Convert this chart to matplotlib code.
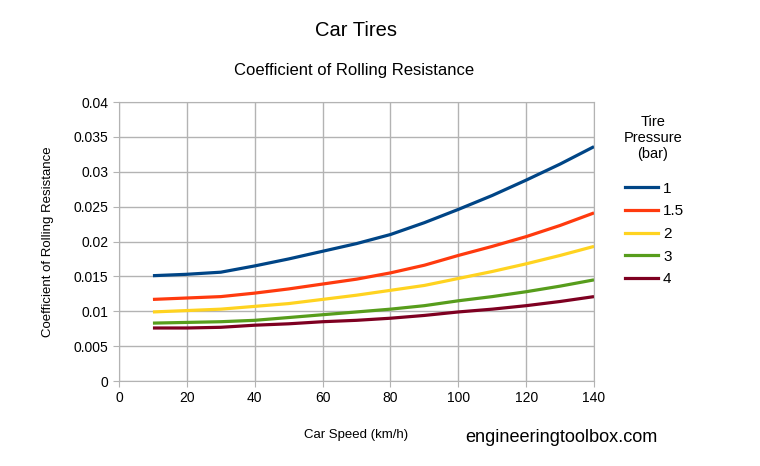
import matplotlib.pyplot as plt
from matplotlib.lines import Line2D

plt.rcParams['font.family'] = ['Liberation Sans', 'DejaVu Sans']

# speed (km/h) and rolling resistance coefficient per tire pressure
speed = [10, 20, 30, 40, 50, 60, 70, 80, 90, 100, 110, 120, 130, 140]
p_1 = [0.0151, 0.0153, 0.0156, 0.0165, 0.0175, 0.0186, 0.0197, 0.0210, 0.0227, 0.0246, 0.0266, 0.0288, 0.0311, 0.0336]
p_15 = [0.0117, 0.0119, 0.0121, 0.0126, 0.0132, 0.0139, 0.0146, 0.0155, 0.0166, 0.0180, 0.0193, 0.0207, 0.0223, 0.0241]
p_2 = [0.0099, 0.0101, 0.0103, 0.0107, 0.0111, 0.0117, 0.0123, 0.0130, 0.0137, 0.0147, 0.0157, 0.0168, 0.0180, 0.0193]
p_3 = [0.0083, 0.0084, 0.0085, 0.0087, 0.0091, 0.0095, 0.0099, 0.0103, 0.0108, 0.0115, 0.0121, 0.0128, 0.0136, 0.0145]
p_4 = [0.0076, 0.0076, 0.0077, 0.0080, 0.0082, 0.0085, 0.0087, 0.0090, 0.0094, 0.0099, 0.0103, 0.0108, 0.0114, 0.0121]

labels = ['1', '1.5', '2', '3', '4']
colors = ['#004586', '#ff3a0e', '#ffd320', '#579d1c', '#7e0021']
series = [p_1, p_15, p_2, p_3, p_4]

fig = plt.figure(figsize=(7.6, 4.66), dpi=100)
ax = fig.add_axes([0.1566, 0.1824, 0.625, 0.5987])

for vals, c in zip(series, colors):
    ax.plot(speed, vals, color=c, lw=2.3, solid_capstyle='butt')

ax.set_xlim(0, 140)
ax.set_ylim(0, 0.04)
ax.set_xticks(range(0, 141, 20))
ax.set_yticks([i * 0.005 for i in range(9)])
ax.set_yticklabels(['0', '0.005', '0.01', '0.015', '0.02', '0.025', '0.03', '0.035', '0.04'])
ax.grid(True, color='#b3b3b3', lw=1)
ax.set_axisbelow(True)
for s in ax.spines.values():
    s.set_color('#b3b3b3')
ax.tick_params(colors='#b3b3b3', labelcolor='black', labelsize=10, length=4, direction='out')

ax.set_xlabel('Car Speed (km/h)', fontsize=9.5, labelpad=17)
ax.set_ylabel('Coefficient of Rolling Resistance', fontsize=9.5, labelpad=14)

fig.text(0.468, 0.935, 'Car Tires', ha='center', va='center', fontsize=14.5)
fig.text(0.466, 0.848, 'Coefficient of Rolling Resistance', ha='center', va='center', fontsize=12)
fig.text(0.612, 0.062, 'engineeringtoolbox.com', ha='left', va='center', fontsize=13.1)

# legend title drawn separately so the gap above the entries can be set
fig.text(0.859, 0.754, 'Tire\nPressure\n(bar)', ha='center', va='top', fontsize=10.5,
         multialignment='center', linespacing=1.2)
handles = [Line2D([], [], color=c, lw=2.3) for c in colors]
leg = fig.legend(handles, labels, loc='upper left',
                 bbox_to_anchor=(0.804, 0.640), frameon=False, fontsize=11,
                 handlelength=2.2, labelspacing=0.57, handletextpad=0.3)

fig.savefig('out.png', dpi=100)
